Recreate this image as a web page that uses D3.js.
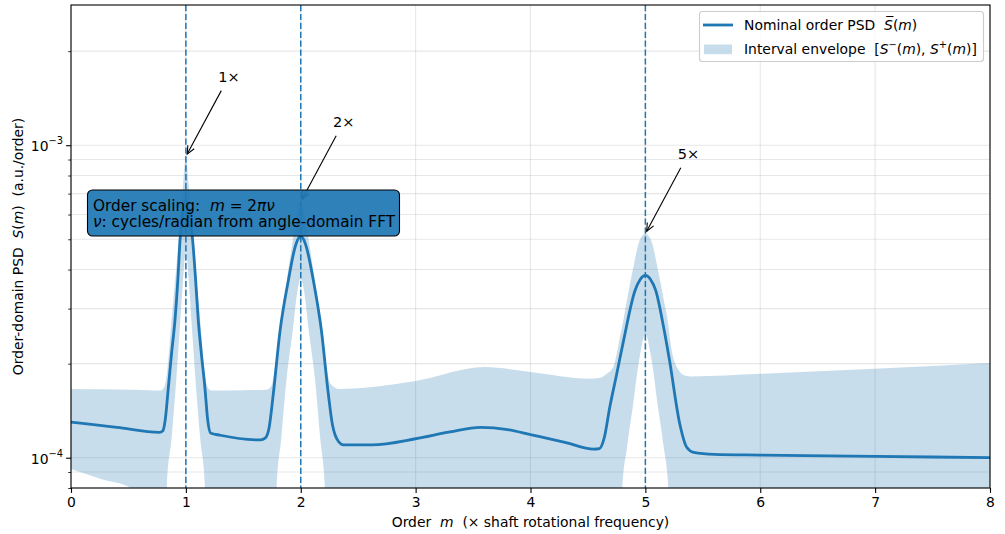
<!DOCTYPE html>
<html><head><meta charset="utf-8">
<script src="https://cdn.jsdelivr.net/npm/d3@7"></script>
<style>
html,body{margin:0;padding:0;background:#fff;}
svg{display:block;font-family:"DejaVu Sans",sans-serif;}
svg text{white-space:pre;}
</style></head>
<body>
<svg id="chart" width="1005" height="534" xml:space="preserve"></svg>
<script>
// ---------------- data ----------------
const nomM = [0,0.4,0.77,0.80,0.82,0.847,0.875,0.905,0.93,0.949,0.975,1.0,1.025,1.059,1.085,1.108,1.135,1.166,1.19,1.215,1.3,1.65,1.69,1.725,1.761,1.82,1.892,1.95,1.975,2.0,2.025,2.05,2.11,2.18,2.24,2.275,2.30,2.33,2.37,2.62,3.0,3.3,3.565,3.8,4.0,4.3,4.55,4.6,4.64,4.69,4.75,4.81,4.91,4.955,5.0,5.045,5.09,5.16,5.21,5.30,5.36,5.42,5.6,6.0,7.0,8.0];
const nomV = [1.30e-4,1.25e-4,1.205e-4,1.22e-4,1.32e-4,1.67e-4,2.15e-4,2.75e-4,3.7e-4,4.96e-4,6.2e-4,6.7e-4,6.2e-4,4.96e-4,3.7e-4,2.75e-4,2.15e-4,1.67e-4,1.32e-4,1.2e-4,1.18e-4,1.14e-4,1.155e-4,1.25e-4,1.60e-4,2.55e-4,3.69e-4,4.71e-4,5.0e-4,5.1e-4,5.0e-4,4.71e-4,3.69e-4,2.55e-4,1.60e-4,1.28e-4,1.18e-4,1.125e-4,1.10e-4,1.10e-4,1.15e-4,1.21e-4,1.25e-4,1.23e-4,1.185e-4,1.12e-4,1.066e-4,1.07e-4,1.15e-4,1.45e-4,1.85e-4,2.37e-4,3.43e-4,3.72e-4,3.83e-4,3.72e-4,3.43e-4,2.6e-4,2.05e-4,1.28e-4,1.08e-4,1.04e-4,1.025e-4,1.02e-4,1.01e-4,1.0e-4];

const envM = [0,0.26,0.52,0.55,0.78,0.81,0.83,0.835,0.875,0.915,0.95,0.975,1.0,1.025,1.05,1.085,1.125,1.165,1.17,1.19,1.22,1.5,1.7,1.745,1.776,1.785,1.79,1.83,1.875,1.93,1.97,2.0,2.03,2.07,2.125,2.17,2.21,2.215,2.224,2.26,2.33,3.0,3.6,4.0,4.51,4.6,4.66,4.72,4.79,4.80,4.84,4.89,4.95,5.0,5.05,5.11,5.16,5.2,5.205,5.26,5.35,5.4,6.0,7.0,8.0];
const envUpper = [1.66e-4,1.655e-4,1.65e-4,1.65e-4,1.64e-4,1.68e-4,1.8e-4,1.85e-4,2.75e-4,4.0e-4,5.6e-4,7.4e-4,9.2e-4,7.4e-4,5.6e-4,4.0e-4,2.75e-4,1.85e-4,1.8e-4,1.68e-4,1.64e-4,1.645e-4,1.65e-4,1.70e-4,1.95e-4,2.05e-4,2.12e-4,2.6e-4,3.6e-4,4.95e-4,6.1e-4,6.6e-4,6.1e-4,4.95e-4,3.6e-4,2.6e-4,2.12e-4,2.05e-4,1.95e-4,1.72e-4,1.66e-4,1.76e-4,1.95e-4,1.88e-4,1.79e-4,1.80e-4,1.85e-4,1.95e-4,2.55e-4,2.65e-4,3.2e-4,3.98e-4,4.96e-4,5.21e-4,4.96e-4,3.98e-4,3.2e-4,2.65e-4,2.55e-4,2.0e-4,1.83e-4,1.82e-4,1.855e-4,1.925e-4,2.01e-4];
// lower bound; 1e-6 marks where it falls far below the visible range
const envLower = [9.2e-5,8.55e-5,8.0e-5,7.8e-5,1e-6,1e-6,1e-6,8.2e-5,1.15e-4,1.75e-4,2.7e-4,3.7e-4,4.6e-4,3.7e-4,2.7e-4,1.75e-4,1.15e-4,8.2e-5,1e-6,1e-6,1e-6,1e-6,1e-6,1e-6,1e-6,1e-6,8.0e-5,1.15e-4,1.77e-4,2.55e-4,3.4e-4,3.75e-4,3.4e-4,2.55e-4,1.77e-4,1.15e-4,8.0e-5,1e-6,1e-6,1e-6,1e-6,1e-6,1e-6,1e-6,1e-6,1e-6,1e-6,1e-6,1e-6,8.0e-5,1.08e-4,1.45e-4,2.1e-4,2.49e-4,2.1e-4,1.45e-4,1.08e-4,8.0e-5,1e-6,1e-6,1e-6,1e-6,1e-6,1e-6,1e-6];

const harmonicOrders = [1, 2, 5];
const harmonicLabels = ["1×", "2×", "5×"];

const xTicks = [0,1,2,3,4,5,6,7,8];
const yMajorTicks = [1e-4, 1e-3];
const yMajorExp = ["−4", "−3"];
const yMinorTicks = [8e-5,9e-5,2e-4,3e-4,4e-4,5e-4,6e-4,7e-4,8e-4,9e-4,2e-3];

// ---------------- layout ----------------
const svg = d3.select("#chart");
const L = 71, R = 990, T = 5, B = 488;
const x = d3.scaleLinear().domain([0, 8]).range([L, R]);
const y = d3.scaleLog().domain([8e-5, 2.81e-3]).range([B, T]);
const blue = "#1f77b4";
const FS = 13.9;

svg.append("defs").append("clipPath").attr("id","clip")
  .append("rect").attr("x",L).attr("y",T).attr("width",R-L).attr("height",B-T);

// grid
const grid = svg.append("g");
grid.selectAll("line.h").data(yMajorTicks.concat(yMinorTicks)).join("line")
  .attr("x1",L).attr("x2",R).attr("y1",d=>y(d)).attr("y2",d=>y(d))
  .attr("stroke","#b0b0b0").attr("stroke-opacity",0.3).attr("stroke-width",1.1);
grid.selectAll("line.v").data(xTicks).join("line")
  .attr("y1",T).attr("y2",B).attr("x1",d=>x(d)).attr("x2",d=>x(d))
  .attr("stroke","#b0b0b0").attr("stroke-opacity",0.3).attr("stroke-width",1.1);

const plot = svg.append("g").attr("clip-path","url(#clip)");

// envelope
const envData = envM.map((m,i)=>({m, lo: envLower[i], hi: envUpper[i]}));
const area = d3.area().x(d=>x(d.m)).y0(d=>y(d.lo)).y1(d=>y(d.hi)).curve(d3.curveMonotoneX);
plot.append("path").datum(envData).attr("d",area)
  .attr("fill",blue).attr("fill-opacity",0.25).attr("stroke","none");

// nominal
const nomData = nomM.map((m,i)=>({m, v: nomV[i]}));
const line = d3.line().x(d=>x(d.m)).y(d=>y(d.v)).curve(d3.curveMonotoneX);
plot.append("path").datum(nomData).attr("d",line)
  .attr("fill","none").attr("stroke",blue).attr("stroke-width",2.8)
  .attr("stroke-linejoin","round");

// harmonic markers
plot.selectAll("line.hm").data(harmonicOrders).join("line")
  .attr("x1",d=>x(d)).attr("x2",d=>x(d)).attr("y1",T).attr("y2",B)
  .attr("stroke",blue).attr("stroke-width",1.5).attr("stroke-dasharray","6.2,2.7");

// axes
const xAxis = svg.append("g").attr("transform",`translate(0,${B})`)
  .call(d3.axisBottom(x).tickValues(xTicks).tickFormat(d3.format("d")).tickSize(4.9).tickPadding(4.5));
xAxis.select(".domain").remove();
xAxis.selectAll("text").attr("font-size",FS).attr("font-family","DejaVu Sans").attr("fill","#000");
xAxis.selectAll("line").attr("stroke","#000").attr("stroke-width",1.1);

const yAxis = svg.append("g").attr("transform",`translate(${L},0)`)
  .call(d3.axisLeft(y).tickValues(yMajorTicks).tickFormat(()=>"").tickSize(4.9));
yAxis.select(".domain").remove();
yAxis.selectAll("line").attr("stroke","#000").attr("stroke-width",1.1);
const yAxisMinor = svg.append("g").attr("transform",`translate(${L},0)`)
  .call(d3.axisLeft(y).tickValues(yMinorTicks).tickFormat(()=>"").tickSize(2.8));
yAxisMinor.select(".domain").remove();
yAxisMinor.selectAll("line").attr("stroke","#000").attr("stroke-width",0.8);

yMajorTicks.forEach((v,i)=>{
  const t = svg.append("text").attr("x",L-8).attr("y",y(v)+6)
    .attr("text-anchor","end").attr("font-size",FS).attr("fill","#000");
  t.append("tspan").text("10");
  t.append("tspan").attr("dy",-7).attr("font-size",9.8).text(yMajorExp[i]);
});

// frame
svg.append("rect").attr("x",L).attr("y",T).attr("width",R-L).attr("height",B-T)
  .attr("fill","none").attr("stroke","#000").attr("stroke-width",1.1);

// rich text helper
function rich(sel, parts){
  parts.forEach(p=>{
    const ts = sel.append("tspan").text(p.t);
    if(p.i) ts.attr("font-style","italic");
    if(p.sup){ ts.attr("dy",-6).attr("font-size",9.8); }
    if(p.down){ ts.attr("dy",6); }
  });
}

// axis labels
const xl = svg.append("text").attr("x",(L+R)/2).attr("y",527).attr("text-anchor","middle")
  .attr("font-size",FS).attr("fill","#000");
rich(xl,[{t:"Order  "},{t:"m",i:true},{t:"  (× shaft rotational frequency)"}]);

const yl = svg.append("text").attr("transform",`translate(23,${(T+B)/2}) rotate(-90)`)
  .attr("text-anchor","middle").attr("font-size",FS).attr("fill","#000");
rich(yl,[{t:"Order-domain PSD  "},{t:"S",i:true},{t:"("},{t:"m",i:true},{t:")  (a.u./order)"}]);

// annotations
const ann = svg.append("g");
harmonicOrders.forEach((m,i)=>{
  const idx = envM.indexOf(m);
  const px = x(m), py = y(envUpper[idx]);
  const tx = px + 43, ty = py - 80;
  ann.append("text").attr("x",tx).attr("y",ty+5.5).attr("text-anchor","middle")
    .attr("font-size",14.5).attr("fill","#000").text(harmonicLabels[i]);
  const dx = px-tx, dy = py-ty, len = Math.hypot(dx,dy);
  const ux = dx/len, uy = dy/len;
  const sx = tx+ux*16, sy = ty+uy*16;
  const ex = px-ux*2.8, ey = py-uy*2.8;
  ann.append("line").attr("x1",sx).attr("y1",sy).attr("x2",ex).attr("y2",ey)
    .attr("stroke","#000").attr("stroke-width",1.1);
  const hl = 8, hw = 3.6;
  const bx = ex-ux*hl, by = ey-uy*hl;
  ann.append("path")
    .attr("d",`M${bx - uy*hw},${by + ux*hw}L${ex},${ey}L${bx + uy*hw},${by - ux*hw}`)
    .attr("fill","none").attr("stroke","#000").attr("stroke-width",1.1);
});

// info box
const box = svg.append("g");
box.append("rect").attr("x",87.5).attr("y",190).attr("width",312).attr("height",46).attr("rx",5)
  .attr("fill",blue).attr("fill-opacity",0.93).attr("stroke","#000").attr("stroke-width",1.1);
const b1 = box.append("text").attr("x",93).attr("y",210.5).attr("font-size",15.3).attr("fill","#000");
rich(b1,[{t:"Order scaling:  "},{t:"m",i:true},{t:" = 2"},{t:"πν",i:true}]);
const b2 = box.append("text").attr("x",93).attr("y",226.5).attr("font-size",15.3).attr("fill","#000");
rich(b2,[{t:"ν",i:true},{t:": cycles/radian from angle-domain FFT"}]);

// legend
const lg = svg.append("g");
lg.append("rect").attr("x",699.5).attr("y",11.5).attr("width",284).attr("height",50).attr("rx",3)
  .attr("fill","#fff").attr("fill-opacity",0.8).attr("stroke","#cccccc").attr("stroke-width",1.1);
lg.append("line").attr("x1",703).attr("x2",733).attr("y1",25).attr("y2",25)
  .attr("stroke",blue).attr("stroke-width",2.8);
lg.append("rect").attr("x",704).attr("y",44.5).attr("width",28).attr("height",9.7)
  .attr("fill",blue).attr("fill-opacity",0.25);
const l1 = lg.append("text").attr("x",744).attr("y",30).attr("font-size",FS).attr("fill","#000");
rich(l1,[{t:"Nominal order PSD  "},{t:"S\u0305",i:true},{t:"("},{t:"m",i:true},{t:")"}]);
const l2 = lg.append("text").attr("x",744).attr("y",54).attr("font-size",FS).attr("fill","#000");
rich(l2,[{t:"Interval envelope  ["},{t:"S",i:true},{t:"−",sup:true},{t:"(",down:true},{t:"m",i:true},
  {t:"), "},{t:"S",i:true},{t:"+",sup:true},{t:"(",down:true},{t:"m",i:true},{t:")]"}]);
</script>
</body></html>
